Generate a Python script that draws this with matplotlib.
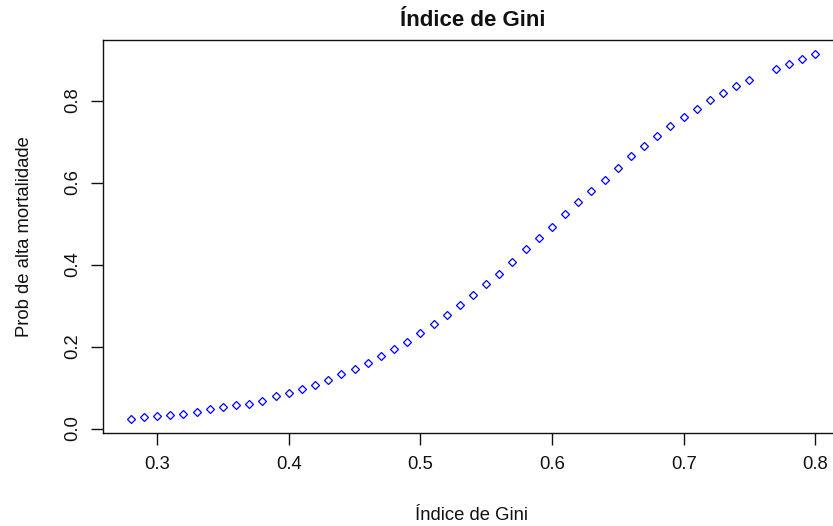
import matplotlib
matplotlib.use("Agg")
import matplotlib.pyplot as plt

# Data
gini = [0.28, 0.29, 0.30, 0.31, 0.32, 0.33, 0.34, 0.35, 0.36, 0.37,
        0.38, 0.39, 0.40, 0.41, 0.42, 0.43, 0.44, 0.45, 0.46, 0.47,
        0.48, 0.49, 0.50, 0.51, 0.52, 0.53, 0.54, 0.55, 0.56, 0.57,
        0.58, 0.59, 0.60, 0.61, 0.62, 0.63, 0.64, 0.65, 0.66, 0.67,
        0.68, 0.69, 0.70, 0.71, 0.72, 0.73, 0.74, 0.75, 0.77, 0.78,
        0.79, 0.80]
prob = [0.024, 0.027, 0.030, 0.033, 0.036, 0.041, 0.047, 0.052, 0.057, 0.061,
        0.068, 0.079, 0.087, 0.096, 0.107, 0.118, 0.132, 0.145, 0.161, 0.177,
        0.194, 0.212, 0.234, 0.256, 0.277, 0.301, 0.325, 0.352, 0.377, 0.405,
        0.437, 0.465, 0.492, 0.524, 0.552, 0.579, 0.607, 0.636, 0.664, 0.690,
        0.713, 0.737, 0.759, 0.780, 0.801, 0.819, 0.836, 0.850, 0.878, 0.889,
        0.902, 0.913]
xticks = [0.3, 0.4, 0.5, 0.6, 0.7, 0.8]
xticklabels = ["0.3", "0.4", "0.5", "0.6", "0.7", "0.8"]
yticks = [0.0, 0.2, 0.4, 0.6, 0.8]
yticklabels = ["0.0", "0.2", "0.4", "0.6", "0.8"]
title = "Índice de Gini"
xlabel = "Índice de Gini"
ylabel = "Prob de alta mortalidade"

plt.rcParams['font.family'] = ['Liberation Sans', 'DejaVu Sans']

W, H = 833, 526
fig = plt.figure(figsize=(W / 100, H / 100), dpi=100)
L, R, B, T = 103.3, 842.7, 433.3, 39.6
ax = fig.add_axes([L / W, 1 - B / H, (R - L) / W, (B - T) / H])

ax.plot(gini, prob, linestyle='none', marker='D', markersize=3.6,
        markerfacecolor='none', markeredgecolor='#0000FF', markeredgewidth=0.9)

# R-style 4% axis extension
xr = max(gini) - min(gini)
yr = max(prob) - min(prob)
ax.set_xlim(min(gini) - 0.04 * xr, max(gini) + 0.04 * xr)
ax.set_ylim(min(prob) - 0.04 * yr, max(prob) + 0.04 * yr)

ax.set_xticks(xticks)
ax.set_xticklabels(xticklabels)
ax.set_yticks(yticks)
ax.set_yticklabels(yticklabels)

for s in ['left', 'bottom', 'top', 'right']:
    ax.spines[s].set_linewidth(1.0)
    ax.spines[s].set_color('#111111')

ax.tick_params(axis='both', length=8.3, width=1.0, color='#111111',
               labelsize=13.3, labelcolor='#111111', pad=7.8)
for lab in ax.get_yticklabels():
    lab.set_rotation(90)
    lab.set_va('center')
    lab.set_ha('right')

cx = (L + R) / 2 / W
fig.text(cx, 1 - 20.5 / H, title, ha='center', va='center',
         fontsize=16, fontweight='bold', color='#111111')
fig.text(471.5 / W, 1 - 520 / H, xlabel, ha='center', va='baseline',
         fontsize=13.3, color='#111111')
fig.text(24.5 / W, 1 - 236.5 / H, ylabel, ha='center', va='center',
         rotation=90, fontsize=13.3, color='#111111')

fig.savefig("out.png", dpi=100)
